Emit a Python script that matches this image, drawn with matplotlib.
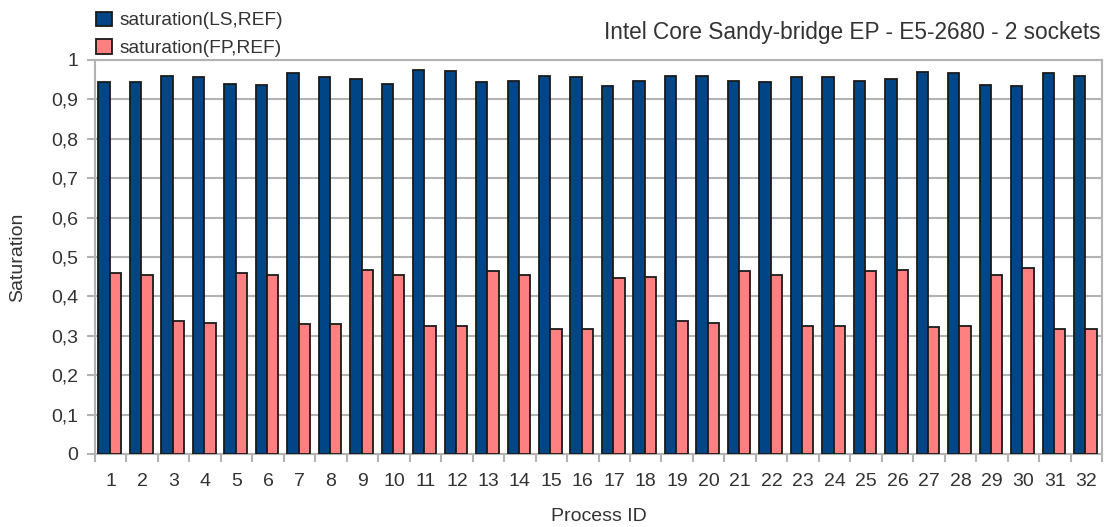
import matplotlib
matplotlib.use("Agg")
import matplotlib.pyplot as plt
import numpy as np
from matplotlib.ticker import FuncFormatter, MultipleLocator, FixedLocator

plt.rcParams['font.family'] = ['Liberation Sans', 'DejaVu Sans']

process_ids = list(range(1, 33))
sat_ls = [0.944, 0.944, 0.959, 0.957, 0.939, 0.937, 0.967, 0.957, 0.952, 0.939,
          0.975, 0.972, 0.944, 0.947, 0.959, 0.957, 0.934, 0.947, 0.959, 0.959,
          0.947, 0.944, 0.957, 0.957, 0.947, 0.952, 0.970, 0.967, 0.937, 0.934,
          0.967, 0.959]
sat_fp = [0.459, 0.454, 0.338, 0.332, 0.459, 0.454, 0.330, 0.330, 0.467, 0.454,
          0.325, 0.325, 0.464, 0.454, 0.317, 0.317, 0.447, 0.449, 0.338, 0.332,
          0.464, 0.454, 0.325, 0.325, 0.464, 0.467, 0.322, 0.325, 0.454, 0.472,
          0.317, 0.317]
labels = ["saturation(LS,REF)", "saturation(FP,REF)"]
title = "Intel Core Sandy-bridge EP - E5-2680 - 2 sockets"

text_color = '#333333'
fs = 14
fig = plt.figure(figsize=(11.11, 5.27), dpi=100)
ax = fig.add_axes([95/1111, 73/527, 1007/1111, 394/527])

x = np.arange(len(process_ids))
w = 0.36
b1 = ax.bar(x - w/2 - 0.03, sat_ls, w, color='#004586', edgecolor='#1a1a1a', linewidth=1.3, label=labels[0], zorder=3)
b2 = ax.bar(x + w/2 - 0.03, sat_fp, w, color='#ff8080', edgecolor='#1a1a1a', linewidth=1.3, label=labels[1], zorder=3)

ax.set_xlim(-0.5, len(process_ids) - 0.5)
ax.set_ylim(0, 1)
ax.yaxis.set_major_locator(MultipleLocator(0.1))
ax.yaxis.set_major_formatter(FuncFormatter(lambda v, p: ('%g' % round(v, 1)).replace('.', ',')))
ax.set_xticks(x)
ax.set_xticklabels([str(p) for p in process_ids])
ax.xaxis.set_minor_locator(FixedLocator(np.arange(-0.5, len(process_ids), 1.0)))
ax.tick_params(axis='x', which='major', length=0, pad=14, labelsize=fs, labelcolor=text_color)
ax.tick_params(axis='x', which='minor', length=6, width=1.5, color='#b3b3b3', direction='out')
ax.tick_params(axis='y', length=6, width=1.5, color='#b3b3b3', labelsize=fs, labelcolor=text_color, pad=6)
ax.grid(axis='y', color='#b3b3b3', linewidth=1.5, zorder=0)
for s in ax.spines.values():
    s.set_color('#b3b3b3')
    s.set_linewidth(1.5)

ax.set_ylabel('Saturation', fontsize=fs, color=text_color)
ax.yaxis.set_label_coords(-(95 - 26) / 1007, 0.5)
ax.set_xlabel('Process ID', fontsize=fs, color=text_color, labelpad=12.5)

fig.text(1100/1111, 1 - 32/527, title, ha='right', va='center', fontsize=16.3, color=text_color)

leg = fig.legend(handles=[b1, b2], labels=labels, loc='upper left', bbox_to_anchor=(84/1111, 1.0),
                 frameon=False, fontsize=13.8, handlelength=0.85, handleheight=0.8,
                 handletextpad=0.4, labelspacing=0.5, borderaxespad=0.2)
for t in leg.get_texts():
    t.set_color(text_color)

fig.savefig('out.png', dpi=100)
